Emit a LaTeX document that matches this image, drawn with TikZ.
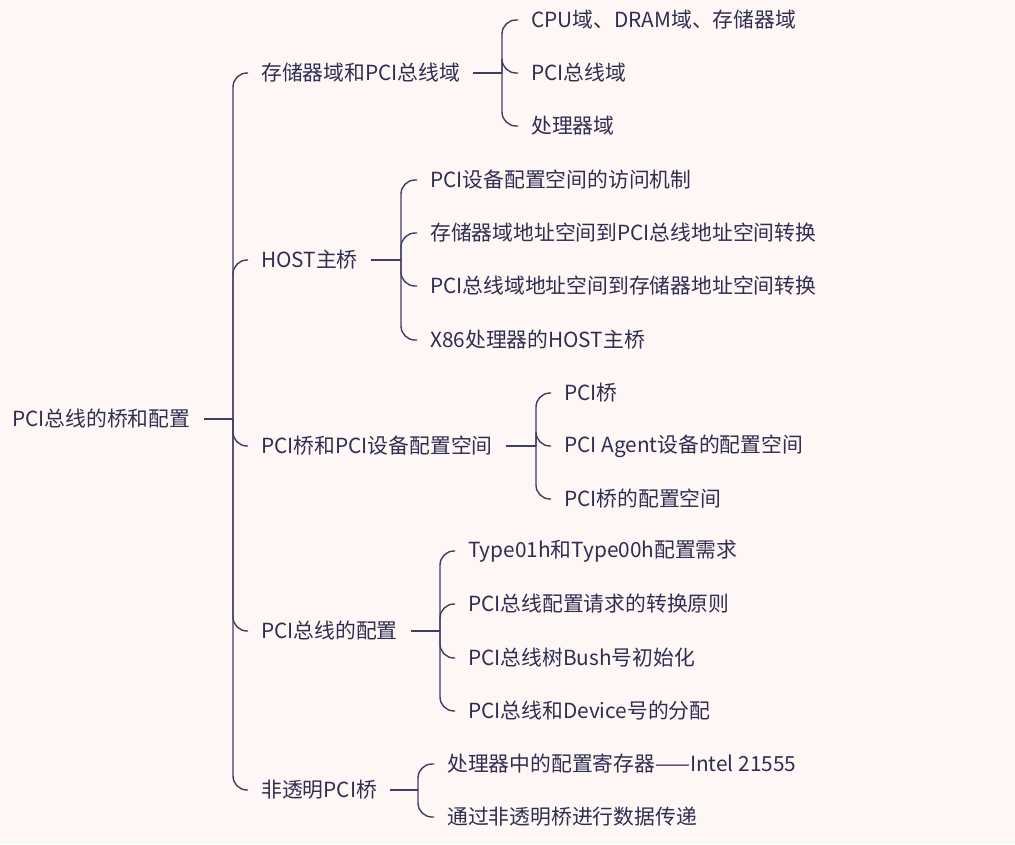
\documentclass[tikz,border=0pt]{standalone}
\usepackage{fontspec}
\setmainfont{Noto Sans CJK SC}
\definecolor{bgPink}{RGB}{255,247,246}
\definecolor{lineNavy}{RGB}{62,62,100}
\definecolor{textNavy}{RGB}{46,46,82}
\tikzset{
    topic/.style={
        ,   anchor=west
        ,   inner xsep=13pt
        ,   inner ysep=2pt
        ,   text=textNavy
        ,   font=\fontsize{20.8pt}{24pt}\selectfont
    },
    branchLine/.style={
        ,   draw=lineNavy
        ,   line width=1.4pt
        ,   rounded corners=14pt
    }
}
\begin{document}
\begin{tikzpicture}[x=1pt, y=-1pt]
\fill[bgPink] (0,0) rectangle (1015,844);
\useasboundingbox (0,0) rectangle (1015,844);

% root
\node[topic] (root) at (-1,419) {PCI总线的桥和配置};
\coordinate (forkR) at (233,419);

% first level
\node[topic] (mem)  at (248,73)  {存储器域和PCI总线域};
\node[topic] (host) at (248,260) {HOST主桥};
\node[topic] (cfg)  at (248,446) {PCI桥和PCI设备配置空间};
\node[topic] (bus)  at (248,631) {PCI总线的配置};
\node[topic] (ntb)  at (248,790) {非透明PCI桥};

\draw[branchLine] (root.east) -- (forkR);
\foreach \n in {mem,host,cfg,bus,ntb}
  \draw[branchLine] (forkR) |- (\n.west);

% 存储器域和PCI总线域
\coordinate (forkM) at (502,73);
\node[topic] (mem1) at (518,20)  {CPU域、DRAM域、存储器域};
\node[topic] (mem2) at (518,73)  {PCI总线域};
\node[topic] (mem3) at (518,126) {处理器域};
\draw[branchLine] (mem.east) -- (forkM);
\foreach \n in {mem1,mem2,mem3}
  \draw[branchLine] (forkM) |- (\n.west);

% HOST主桥
\coordinate (forkH) at (401,260);
\node[topic] (host1) at (417,180) {PCI设备配置空间的访问机制};
\node[topic] (host2) at (417,233) {存储器域地址空间到PCI总线地址空间转换};
\node[topic] (host3) at (417,286) {PCI总线域地址空间到存储器地址空间转换};
\node[topic] (host4) at (417,340) {X86处理器的HOST主桥};
\draw[branchLine] (host.east) -- (forkH);
\foreach \n in {host1,host2,host3,host4}
  \draw[branchLine] (forkH) |- (\n.west);

% PCI桥和PCI设备配置空间
\coordinate (forkC) at (536,446);
\node[topic] (cfg1) at (551,393) {PCI桥};
\node[topic] (cfg2) at (551,446) {PCI Agent设备的配置空间};
\node[topic] (cfg3) at (551,499) {PCI桥的配置空间};
\draw[branchLine] (cfg.east) -- (forkC);
\foreach \n in {cfg1,cfg2,cfg3}
  \draw[branchLine] (forkC) |- (\n.west);

% PCI总线的配置
\coordinate (forkB) at (440,631);
\node[topic] (bus1) at (455,551) {Type01h和Type00h配置需求};
\node[topic] (bus2) at (455,604) {PCI总线配置请求的转换原则};
\node[topic] (bus3) at (455,658) {PCI总线树Bush号初始化};
\node[topic] (bus4) at (455,711) {PCI总线和Device号的分配};
\draw[branchLine] (bus.east) -- (forkB);
\foreach \n in {bus1,bus2,bus3,bus4}
  \draw[branchLine] (forkB) |- (\n.west);

% 非透明PCI桥
\coordinate (forkN) at (418,790);
\node[topic] (ntb1) at (434,764) {处理器中的配置寄存器——Intel 21555};
\node[topic] (ntb2) at (434,817) {通过非透明桥进行数据传递};
\draw[branchLine] (ntb.east) -- (forkN);
\foreach \n in {ntb1,ntb2}
  \draw[branchLine] (forkN) |- (\n.west);
\end{tikzpicture}
\end{document}
